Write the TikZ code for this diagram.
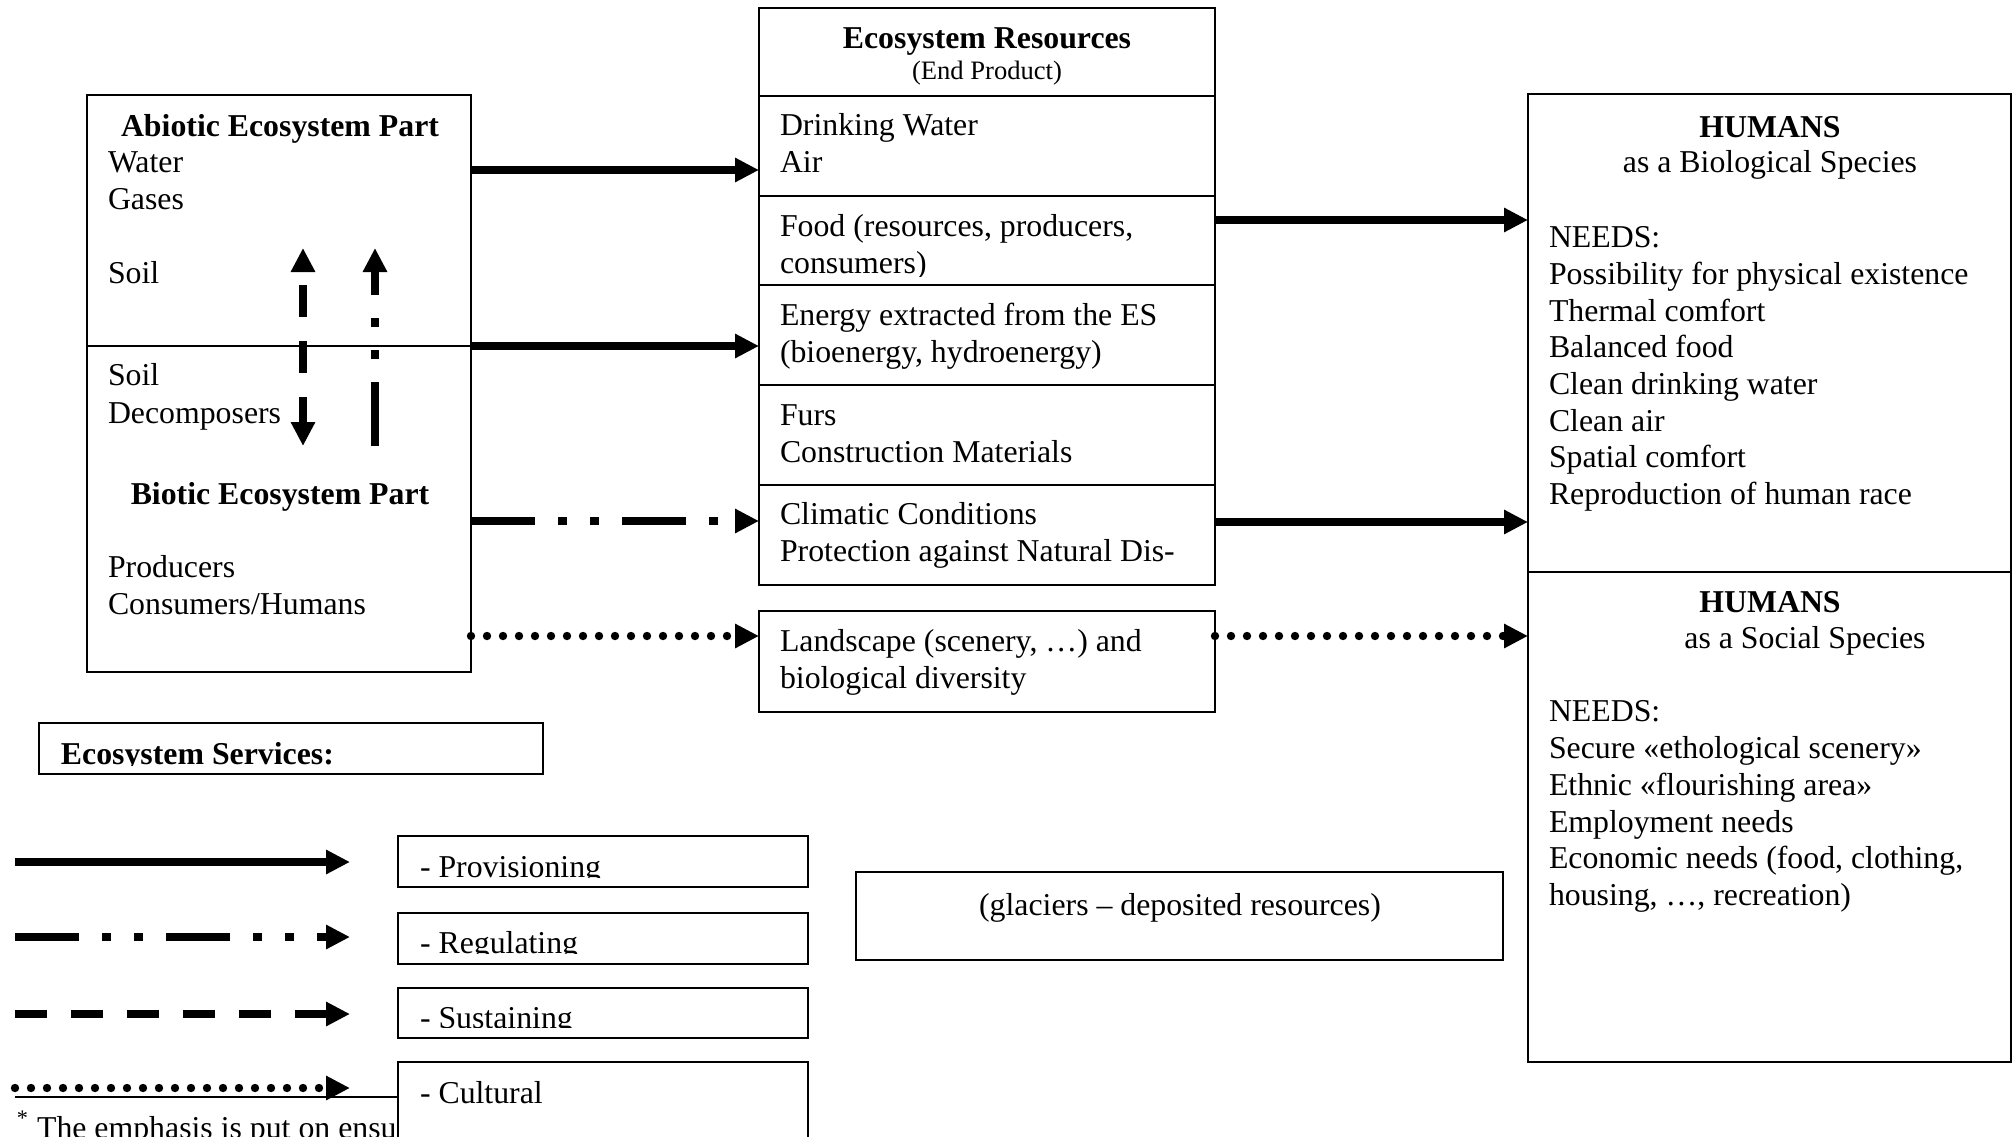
\documentclass[tikz,border=0pt]{standalone}
\usepackage{fontspec}
\setmainfont{Liberation Serif}
\usetikzlibrary{arrows.meta,fit}
\tikzset{
 frame/.style={draw, line width=1.1pt, inner sep=0pt, outer sep=0pt},
 txt/.style={anchor=base west, inner sep=0pt, outer sep=0pt, font=\fontsize{15.9}{18.4}\selectfont},
 ctr/.style={anchor=base, inner sep=0pt, outer sep=0pt, font=\fontsize{15.9}{18.4}\selectfont},
 hdr/.style={anchor=base, inner sep=0pt, outer sep=0pt, font=\fontsize{15.9}{18.4}\selectfont\bfseries},
 hdrw/.style={anchor=base west, inner sep=0pt, outer sep=0pt, font=\fontsize{15.9}{18.4}\selectfont\bfseries},
 smallc/.style={anchor=base, inner sep=0pt, outer sep=0pt, font=\fontsize{13.3}{15.4}\selectfont},
 arrowend/.style={-{Triangle[length=12pt,width=11.5pt]}},
 prov/.style={arrowend, line width=4pt},
 regu/.style={prov, dash pattern=on 32pt off 11.5pt on 4.5pt off 11.5pt on 4.5pt off 11.5pt},
 sust/.style={prov, dash pattern=on 16pt off 12pt},
 cult/.style={arrowend, line width=4.2pt, line cap=round, dash pattern=on 0pt off 8pt},
 thin/.style={line width=1.1pt},
}
\begin{document}
\begin{tikzpicture}[x=0.5pt,y=-0.5pt]
\useasboundingbox (0,0) rectangle (2013,1136);
\clip (0,0) rectangle (2013,1136);

% ---------- left box ----------
\node[frame, fit={(87,95) (471,346)}] (abio) {};
\node[frame, fit={(87,346) (471,672)}] (bio) {};
\node[hdr] (abhd) at (280,136) {Abiotic Ecosystem Part};
\node[txt] (ab1) at (108,172) {Water};
\node[txt] (ab2) at (108,209) {Gases};
\node[txt] (ab3) at (108,283) {Soil};
\node[txt] (bi1) at (108,385) {Soil};
\node[txt] (bi2) at (108,423) {Decomposers};
\node[hdr] (bihd) at (280,504) {Biotic Ecosystem Part};
\node[txt] (bi3) at (108,577) {Producers};
\node[txt] (bi4) at (108,614) {Consumers/Humans};

% vertical arrows
\coordinate (vd1) at (303,446);
\coordinate (vd2) at (303,248);
\coordinate (vr1) at (375,446);
\coordinate (vr2) at (375,248);
\draw[sust, {Triangle[length=12pt,width=11.5pt]}-{Triangle[length=12pt,width=11.5pt]}, dash phase=2.5pt] (vd1) -- (vd2);
\draw[regu] (vr1) -- (vr2);

% ---------- ecosystem resources column ----------
\node[frame, fit={(759,8) (1215,96)}] (es0) {};
\node[frame, fit={(759,96) (1215,196)}] (es1) {};
\node[frame, fit={(759,196) (1215,285)}] (es2) {};
\node[frame, fit={(759,285) (1215,385)}] (es3) {};
\node[frame, fit={(759,385) (1215,485)}] (es4) {};
\node[frame, fit={(759,485) (1215,585)}] (es5) {};
\node[frame, fit={(759,611) (1215,712)}] (es6) {};
\node[hdr] (eshd) at (987,48) {Ecosystem Resources};
\node[smallc] (essub) at (987,79) {(End Product)};
\node[txt] (e1a) at (780,135) {Drinking Water};
\node[txt] (e1b) at (780,172) {Air};
\node[txt] (e2a) at (780,236) {Food (resources, producers,};
\begin{scope}
\clip (760,240) rectangle (1214,276);
\node[txt] (e2b) at (780,273) {consumers)};
\end{scope}
\node[txt] (e3a) at (780,325) {Energy extracted from the ES};
\node[txt] (e3b) at (780,362) {(bioenergy, hydroenergy)};
\node[txt] (e4a) at (780,425) {Furs};
\node[txt] (e4b) at (780,462) {Construction Materials};
\node[txt] (e5a) at (780,524) {Climatic Conditions};
\node[txt] (e5b) at (780,561) {Protection against Natural Dis-};
\node[txt] (e6a) at (780,651) {Landscape (scenery, …) and};
\node[txt] (e6b) at (780,688) {biological diversity};

% ---------- humans ----------
\node[frame, fit={(1528,94) (2011,572)}] (hbio) {};
\node[frame, fit={(1528,572) (2011,1062)}] (hsoc) {};
\node[hdr] (h1hd) at (1770,137) {HUMANS};
\node[ctr] (h1sub) at (1770,172.5) {as a Biological Species};
\node[txt] (h1n) at (1549,247) {NEEDS:};
\node[txt] (h11) at (1549,284) {Possibility for physical existence};
\node[txt] (h12) at (1549,321) {Thermal comfort};
\node[txt] (h13) at (1549,357) {Balanced food};
\node[txt] (h14) at (1549,394) {Clean drinking water};
\node[txt] (h15) at (1549,431) {Clean air};
\node[txt] (h16) at (1549,467) {Spatial comfort};
\node[txt] (h17) at (1549,504) {Reproduction of human race};
\node[hdr] (h2hd) at (1770,612.5) {HUMANS};
\node[ctr] (h2sub) at (1805,648) {as a Social Species};
\node[txt] (h2n) at (1549,721) {NEEDS:};
\node[txt] (h21) at (1549,758) {Secure «ethological scenery»};
\node[txt] (h22) at (1549,795) {Ethnic «flourishing area»};
\node[txt] (h23) at (1549,832) {Employment needs};
\node[txt] (h24) at (1549,868) {Economic needs (food, clothing,};
\node[txt] (h25) at (1549,905) {housing, …, recreation)};

% ---------- main arrows ----------
\draw[prov] (abio.east |- 0,170) -- (es1.west |- 0,170);
\draw[prov] (abio.south east) -- (es3.west |- 0,346);
\draw[regu] (bio.east |- 0,521) -- (es5.west |- 0,521);
\draw[cult] (bio.east |- 0,636) -- (es6.west |- 0,636);
\draw[prov] (es2.east |- 0,220) -- (hbio.west |- 0,220);
\draw[prov] (es5.east |- 0,522) -- (hbio.west |- 0,522);
\draw[cult] (es6.east |- 0,636) -- (hsoc.west |- 0,636);

% ---------- glaciers ----------
\node[frame, fit={(856,872) (1503,960)}] (glac) {};
\node[ctr] (glact) at (1180,915) {(glaciers – deposited resources)};

% ---------- legend ----------
\node[frame, fit={(39,723) (543,774)}] (eserv) {};
\begin{scope}
\clip (40,724) rectangle (542,765.5);
\node[hdrw] (eservt) at (61,764.5) {Ecosystem Services:};
\end{scope}

\node[frame, fit={(398,836) (808,887)}] (lprov) {};
\node[frame, fit={(398,913) (808,964)}] (lregu) {};
\node[frame, fit={(398,988) (808,1038)}] (lsust) {};

\begin{scope}
\clip (399,837) rectangle (807,877.5);
\node[txt] (lprovt) at (420,877) {- Provisioning};
\end{scope}
\begin{scope}
\clip (399,914) rectangle (807,953.5);
\node[txt] (lregut) at (420,953.5) {- Regulating};
\end{scope}
\begin{scope}
\clip (399,989) rectangle (807,1027.5);
\node[txt] (lsustt) at (420,1028) {- Sustaining};
\end{scope}

\coordinate (la1) at (15,862);  \coordinate (lb1) at (350,862);
\coordinate (la2) at (15,937);  \coordinate (lb2) at (350,937);
\coordinate (la3) at (15,1014); \coordinate (lb3) at (350,1014);
\coordinate (la4) at (15,1088); \coordinate (lb4) at (350,1088);
\draw[prov] (la1) -- (lb1);
\draw[regu] (la2) -- (lb2);
\draw[sust] (la3) -- (lb3);
\draw[cult] (la4) -- (lb4);

% footnote
\coordinate (fn1) at (15,1097);
\begin{scope}
\clip (0,1090) rectangle (398,1136);
\node[txt] (fnt) at (17,1138) {\textsuperscript{*} The emphasis is put on ensu};
\end{scope}
\node[frame, fill=white, fit={(398,1062) (808,1140)}] (lcult) {};
\draw[thin] (fn1) -- (lcult.west |- fn1);
\node[txt] (lcultt) at (420,1103.5) {- Cultural};
\end{tikzpicture}
\end{document}
